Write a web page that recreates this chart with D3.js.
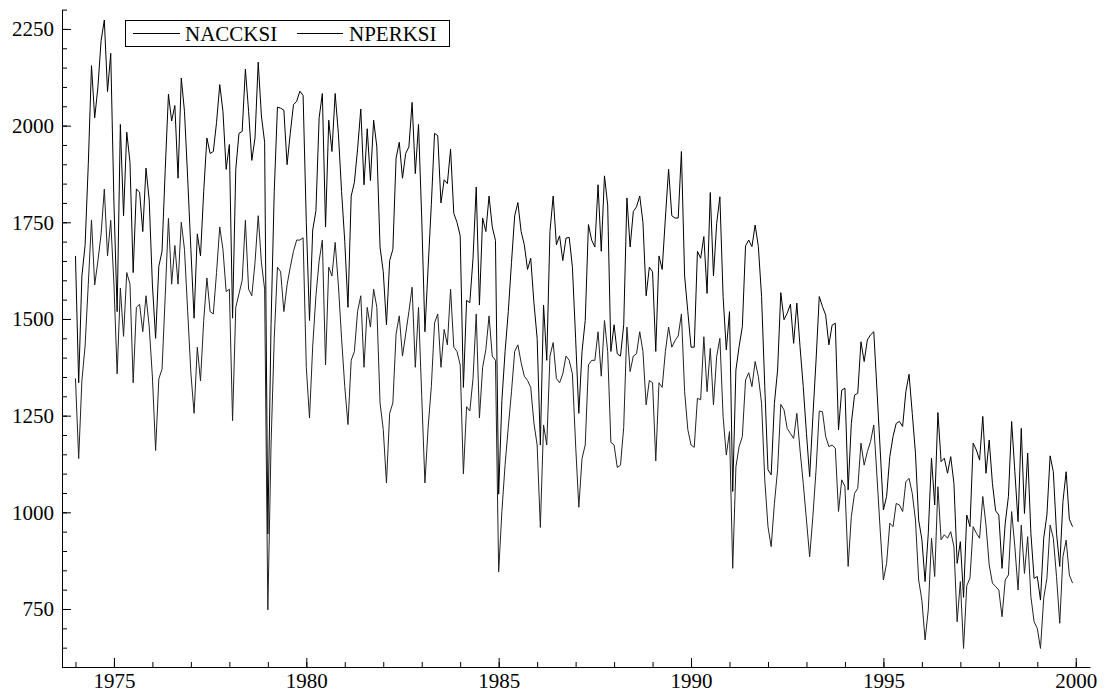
<!DOCTYPE html>
<html><head><meta charset="utf-8">
<script src="https://cdn.jsdelivr.net/npm/d3@7"></script>
<style>body{margin:0;background:#fff}svg text{font-family:"Liberation Serif","Times New Roman",serif;}</style>
</head><body><svg id="c" width="1106" height="695"></svg>
<script>
// Monthly data, Jan 1974 - Dec 1999
const startYear = 1974;
const seriesNames = ["NACCKSI", "NPERKSI"];
const NPERKSI = [
1663,1335,1611,1690,1900,2155,2020,2100,2220,2273,2088,2187,
1800,1519,2003,1767,1983,1905,1620,1836,1828,1726,1890,1807,
1588,1450,1636,1675,1887,2081,2012,2052,1864,2123,2037,1864,
1680,1502,1720,1663,1830,1968,1928,1933,2008,2106,2037,1887,
1951,1502,1887,1980,1985,2146,2037,1910,1968,2164,2025,1957,
944,1485,1830,2048,2045,2040,1899,1980,2054,2063,2089,2078,
1750,1496,1730,1780,2020,2083,1738,2014,1933,2083,1980,1830,
1700,1530,1818,1853,1940,2043,1847,1992,1858,2014,1945,1686,
1622,1485,1651,1680,1916,1957,1864,1928,1945,2060,1876,2003,
1761,1467,1634,1796,1980,1974,1800,1860,1850,1939,1773,1750,
1715,1323,1548,1542,1657,1841,1536,1761,1726,1818,1738,1703,
1047,1289,1416,1519,1646,1767,1801,1726,1692,1628,1657,1542,
1450,1174,1536,1393,1726,1818,1692,1715,1651,1709,1711,1634,
1450,1256,1416,1496,1744,1704,1686,1847,1675,1870,1795,1416,
1485,1410,1404,1485,1813,1686,1778,1790,1818,1750,1560,1634,
1622,1416,1663,1628,1761,1887,1767,1761,1761,1933,1611,1519,
1427,1427,1675,1657,1713,1566,1827,1611,1747,1816,1558,1420,
1519,1054,1368,1429,1480,1689,1704,1687,1743,1687,1558,1325,
1110,1097,1282,1368,1568,1498,1515,1538,1437,1541,1428,1325,
1204,1092,1247,1394,1558,1532,1510,1433,1484,1489,1213,1316,
1321,1058,1230,1303,1308,1441,1390,1446,1459,1467,1316,1161,
1006,1041,1144,1196,1230,1235,1222,1312,1357,1256,1153,980,
930,821,946,1140,1019,1258,1131,1140,1101,1144,1075,868,
924,780,993,963,1179,1161,1135,1248,1101,1187,1075,1004,
993,855,972,1041,1235,1105,976,1217,997,1153,946,829,
834,773,933,993,1146,1105,946,860,1028,1105,982,963
];
const NACCKSI = [
1346,1139,1340,1430,1590,1756,1588,1650,1720,1836,1663,1755,
1590,1358,1580,1455,1620,1590,1335,1530,1538,1467,1560,1480,
1350,1160,1345,1370,1560,1760,1590,1690,1590,1750,1680,1520,
1360,1256,1427,1340,1496,1606,1519,1513,1620,1738,1680,1571,
1577,1237,1530,1565,1600,1755,1577,1560,1646,1767,1646,1577,
748,1174,1450,1634,1622,1519,1588,1634,1675,1704,1704,1710,
1375,1244,1430,1560,1650,1704,1381,1634,1611,1698,1588,1450,
1325,1227,1393,1416,1520,1560,1375,1530,1479,1577,1530,1283,
1214,1076,1256,1283,1461,1508,1404,1461,1519,1582,1375,1530,
1300,1076,1220,1325,1490,1513,1375,1473,1433,1577,1427,1416,
1381,1099,1273,1262,1346,1513,1244,1375,1421,1508,1404,1393,
846,1002,1123,1220,1312,1416,1433,1387,1352,1341,1323,1231,
1174,961,1226,1174,1404,1439,1346,1335,1358,1404,1393,1358,
1174,1013,1139,1174,1381,1393,1393,1467,1352,1496,1416,1181,
1174,1116,1122,1220,1479,1364,1404,1410,1467,1416,1278,1341,
1335,1133,1335,1323,1416,1479,1427,1444,1456,1513,1312,1214,
1174,1168,1295,1291,1454,1312,1424,1278,1403,1450,1248,1148,
1209,855,1118,1170,1196,1342,1361,1325,1390,1351,1282,1084,
963,911,1023,1110,1279,1265,1217,1204,1191,1256,1161,1075,
980,885,989,1110,1262,1260,1196,1170,1174,1166,1002,1084,
1067,860,989,1049,1062,1179,1122,1157,1183,1226,1092,954,
825,868,972,963,1023,1019,1002,1079,1088,1049,980,825,
773,670,748,933,834,1066,929,942,933,950,911,717,
821,648,810,830,963,946,933,1041,967,864,817,808,
799,730,825,838,1002,911,799,967,842,937,782,717,
700,648,778,829,967,933,834,713,885,928,838,817
];
const yTickValues = [750, 1000, 1250, 1500, 1750, 2000, 2250];
const xTickValues = [1975, 1980, 1985, 1990, 1995, 2000];

const svg = d3.select("#c");
const FONT = 21;
const x = d3.scaleLinear().domain([1973.65, 2000.37]).range([62, 1090]);
const y = d3.scaleLinear().domain([600, 2300]).range([667, 9.6]);

// axes
const gy = svg.append("g").attr("transform", "translate(62,0)");
gy.call(d3.axisLeft(y).tickValues(d3.range(600, 2301, 50)).tickSize(-5).tickSizeOuter(0).tickFormat(""));
gy.append("g").call(d3.axisLeft(y).tickValues(yTickValues).tickSize(-9).tickSizeOuter(0).tickPadding(8).tickFormat(d3.format("d")))
  .call(g => g.select(".domain").remove());
const gx = svg.append("g").attr("transform", "translate(0,667)");
gx.call(d3.axisBottom(x).tickValues(d3.range(1974, 2001, 1)).tickSize(-5).tickSizeOuter(0).tickFormat(""));
gx.append("g").call(d3.axisBottom(x).tickValues(xTickValues).tickSize(-9).tickSizeOuter(0).tickPadding(6).tickFormat(d3.format("d")))
  .call(g => g.select(".domain").remove());
svg.selectAll(".tick text").attr("font-size", FONT).attr("fill", "#000").style("font-family", '"Liberation Serif", serif');
svg.selectAll(".domain, .tick line").attr("stroke", "#000").attr("stroke-width", 1);

// lines
const line = d3.line().x((d, i) => x(startYear + i / 12)).y(d => y(d));
svg.append("path").datum(NPERKSI).attr("d", line).attr("fill", "none").attr("stroke", "#000").attr("stroke-width", 1);
svg.append("path").datum(NACCKSI).attr("d", line).attr("fill", "none").attr("stroke", "#222").attr("stroke-width", 1);

// legend
const lg = svg.append("g");
lg.append("rect").attr("x", 125.5).attr("y", 20.5).attr("width", 324).attr("height", 26)
  .attr("fill", "#fff").attr("stroke", "#000").attr("stroke-width", 1);
const legendItems = [{name: seriesNames[0], x0: 133, x1: 180, tx: 185}, {name: seriesNames[1], x0: 297, x1: 343, tx: 349}];
legendItems.forEach(it => {
  lg.append("line").attr("x1", it.x0).attr("x2", it.x1).attr("y1", 33.5).attr("y2", 33.5).attr("stroke", "#000").attr("stroke-width", 1);
  lg.append("text").attr("x", it.tx).attr("y", 41).attr("font-size", FONT).attr("fill", "#000").text(it.name);
});
</script></body></html>
